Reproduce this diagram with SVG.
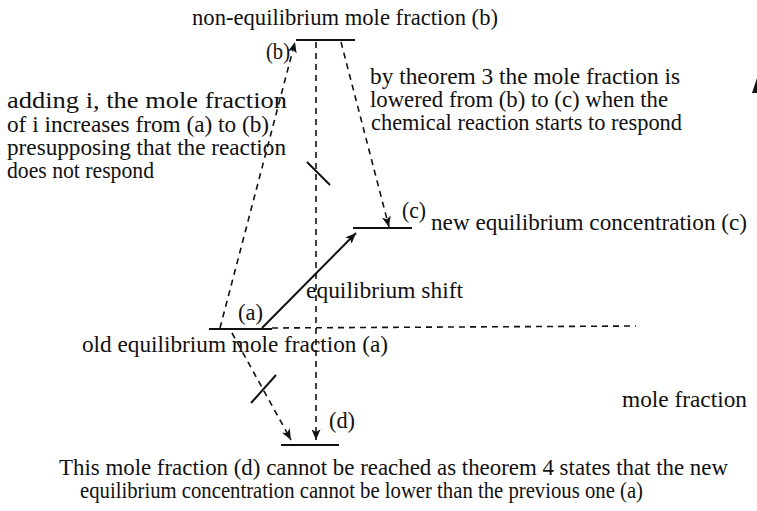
<svg xmlns="http://www.w3.org/2000/svg" width="757" height="511" viewBox="0 0 757 511">
<defs>
<style>
text{font-family:"Liberation Serif","Times New Roman",serif;font-size:23px;fill:#111}
.lvl{stroke:#111;stroke-width:2;fill:none}
.d{stroke:#111;stroke-width:1.6;fill:none;stroke-dasharray:6,5}
.s{stroke:#111;stroke-width:2;fill:none}
</style>
<marker id="ah" viewBox="0 0 12 10" refX="12" refY="5" markerWidth="13" markerHeight="9" markerUnits="userSpaceOnUse" orient="auto">
<path d="M0,0 L12,5 L0,10 L3,5 Z" fill="#111"/>
</marker>
</defs>
<rect width="757" height="511" fill="#fff"/>
<g id="level-b"><line class="lvl" x1="296" y1="40" x2="355" y2="40"/><text x="192" y="25" style="font-size:24px" textLength="306" lengthAdjust="spacingAndGlyphs">non-equilibrium mole fraction (b)</text><text x="266" y="59" textLength="24" lengthAdjust="spacingAndGlyphs">(b)</text></g>
<g id="level-c"><line class="lvl" x1="353" y1="228" x2="412" y2="228"/><text x="402" y="218" textLength="24" lengthAdjust="spacingAndGlyphs">(c)</text><text x="431" y="230" textLength="316" lengthAdjust="spacingAndGlyphs">new equilibrium concentration (c)</text></g>
<g id="level-a"><line class="lvl" x1="209" y1="329" x2="272" y2="329"/><text x="238" y="320" textLength="25" lengthAdjust="spacingAndGlyphs">(a)</text><text x="82" y="352" textLength="306" lengthAdjust="spacingAndGlyphs">old equilibrium mole fraction (a)</text></g>
<g id="level-d"><line class="lvl" x1="281" y1="445" x2="339" y2="445"/><text x="329" y="428" textLength="26" lengthAdjust="spacingAndGlyphs">(d)</text></g>
<g id="notes">
<text x="7" y="108" textLength="280" lengthAdjust="spacingAndGlyphs">adding i, the mole fraction</text>
<text x="7" y="132" textLength="262" lengthAdjust="spacingAndGlyphs">of i increases from (a) to (b)</text>
<text x="7" y="155" textLength="279" lengthAdjust="spacingAndGlyphs">presupposing that the reaction</text>
<text x="7" y="178" textLength="147" lengthAdjust="spacingAndGlyphs">does not respond</text>
<text x="370" y="84" textLength="310" lengthAdjust="spacingAndGlyphs">by theorem 3 the mole fraction is</text>
<text x="370" y="107" textLength="298" lengthAdjust="spacingAndGlyphs">lowered from (b) to (c) when the</text>
<text x="371" y="130" textLength="311" lengthAdjust="spacingAndGlyphs">chemical reaction starts to respond</text>
<text x="306" y="298" textLength="157" lengthAdjust="spacingAndGlyphs">equilibrium shift</text>
<text x="622" y="407" textLength="125" lengthAdjust="spacingAndGlyphs">mole fraction</text>
<text x="59" y="475" textLength="669" lengthAdjust="spacingAndGlyphs">This mole fraction (d) cannot be reached as theorem 4 states that the new</text>
<text x="80" y="498" textLength="563" lengthAdjust="spacingAndGlyphs">equilibrium concentration cannot be lower than the previous one (a)</text>
</g>
<g id="connectors">
<line class="d" x1="220" y1="328" x2="295" y2="42" marker-end="url(#ah)"/>
<line class="d" x1="316" y1="42" x2="316" y2="440" marker-end="url(#ah)"/>
<line class="d" x1="341" y1="42" x2="389" y2="227" marker-end="url(#ah)"/>
<line class="s" x1="262" y1="328" x2="356" y2="233" marker-end="url(#ah)"/>
<line class="d" x1="272" y1="328" x2="636" y2="326"/>
<line class="d" x1="232" y1="333" x2="291" y2="440" marker-end="url(#ah)"/>
<line class="s" stroke-width="1.5" x1="307" y1="162" x2="330" y2="185"/>
<line class="s" stroke-width="1.5" x1="251" y1="403" x2="276" y2="375"/>
<polygon points="752,93 757,78 757,93" fill="#111"/>
</g>
</svg>
